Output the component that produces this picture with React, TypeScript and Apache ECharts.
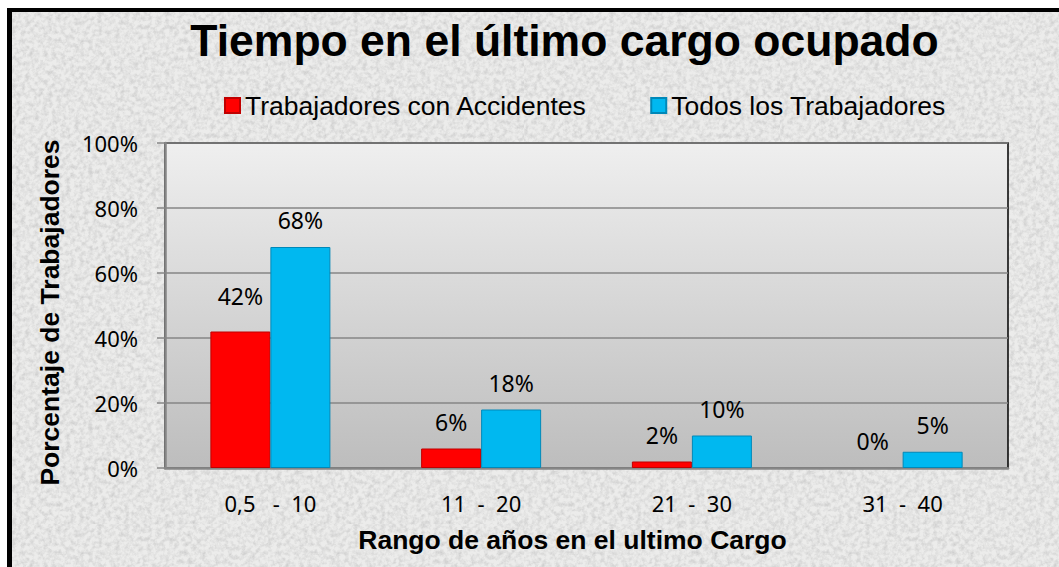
import React, { useEffect, useRef } from "react";
import * as echarts from "echarts";

const titleText = "Tiempo en el último cargo ocupado";
const xAxisTitle = "Rango de años en el ultimo Cargo";
const yAxisTitle = "Porcentaje de Trabajadores";
const categories = ["0,5   -  10", "11  -  20", "21  -  30", "31  -  40"];
const seriesNames = ["Trabajadores con Accidentes", "Todos los Trabajadores"];
const accidentes = [42, 6, 2, 0];
const todos = [68, 18, 10, 5];
const yMin = 0;
const yMax = 100;
const yStep = 20;

const ARIAL = '"Liberation Sans", Arial, sans-serif';
const CALIBRI = '"Noto Sans", sans-serif';

const noiseSvg =
  "<svg xmlns='http://www.w3.org/2000/svg' width='256' height='256'>" +
  "<filter id='n'><feTurbulence type='fractalNoise' baseFrequency='0.22' numOctaves='4' stitchTiles='stitch'/>" +
  "<feColorMatrix type='matrix' values='0 0 0 0 0.55  0 0 0 0 0.55  0 0 0 0 0.55  1.4 0 0 0 -0.52'/></filter>" +
  "<rect width='100%' height='100%' filter='url(#n)'/></svg>";
const noiseUrl = `url("data:image/svg+xml;utf8,${encodeURIComponent(noiseSvg)}")`;

export default function App() {
  const ref = useRef<HTMLDivElement>(null);

  useEffect(() => {
    if (!ref.current) return;
    const chart = echarts.init(ref.current, undefined, { renderer: "svg" });

    const barLabel = {
      show: true,
      position: "top",
      distance: 15.5,
      formatter: "{c}%",
      fontFamily: CALIBRI,
      fontSize: 23,
      color: "#000",
    };

    const textStyleBase = {
      fontFamily: ARIAL,
      fontWeight: "bold",
      fill: "#000",
      align: "center",
      verticalAlign: "middle",
      textAlign: "center",
      textVerticalAlign: "middle",
    };

    const barItem = (v: number, i: number, firstDistance?: number) => {
      const item: any = { value: v };
      if (v === 0) item.itemStyle = { borderWidth: 0 };
      if (i === 0 && firstDistance !== undefined) item.label = { distance: firstDistance };
      return item;
    };

    chart.setOption({
      animation: false,
      backgroundColor: "transparent",
      legend: {
        data: seriesNames,
        left: 224,
        top: 92,
        padding: 0,
        itemWidth: 15,
        itemHeight: 15,
        itemGap: 63,
        icon: "rect",
        textStyle: { fontFamily: ARIAL, fontSize: 26.5, color: "#000" },
      },
      grid: {
        left: 165,
        right: 51,
        top: 143,
        bottom: 99,
        show: true,
        backgroundColor: new echarts.graphic.LinearGradient(0, 0, 0, 1, [
          { offset: 0, color: "#efefef" },
          { offset: 1, color: "#bdbdbd" },
        ]),
        borderColor: "#000",
        borderWidth: 1.5,
      },
      xAxis: {
        type: "category",
        data: categories,
        axisLine: { lineStyle: { color: "#868686", width: 2.5 } },
        axisTick: { show: false },
        axisLabel: {
          fontFamily: CALIBRI,
          fontSize: 22,
          color: "#000",
          margin: 24,
        },
      },
      yAxis: {
        type: "value",
        min: yMin,
        max: yMax,
        interval: yStep,
        axisLine: { show: true, lineStyle: { color: "#868686", width: 2.5 } },
        axisTick: { show: true, length: 8, lineStyle: { color: "#868686", width: 1.5 } },
        axisLabel: {
          formatter: "{value}%",
          fontFamily: CALIBRI,
          fontSize: 22,
          color: "#000",
          margin: 27,
        },
        splitLine: { lineStyle: { color: "#868686", width: 1.5 } },
      },
      series: [
        {
          name: seriesNames[0],
          type: "bar",
          barWidth: 60,
          barGap: "0%",
          data: accidentes.map((v, i) => barItem(v, i, 24.5)),
          itemStyle: { color: "#ff0000", borderColor: "#c00000", borderWidth: 1 },
          label: barLabel,
        },
        {
          name: seriesNames[1],
          type: "bar",
          barWidth: 60,
          barGap: "0%",
          data: todos.map((v, i) => barItem(v, i)),
          itemStyle: { color: "#00b8f0", borderColor: "#0088b8", borderWidth: 1 },
          label: barLabel,
        },
      ],
      graphic: [
        {
          type: "text",
          x: 564.5,
          y: 40,
          z: 100,
          style: { ...textStyleBase, text: titleText, fontSize: 44.5 },
        },
        {
          type: "text",
          x: 572.5,
          y: 540,
          z: 100,
          style: { ...textStyleBase, text: xAxisTitle, fontSize: 26.5 },
        },
        {
          type: "text",
          x: 50,
          y: 312.5,
          rotation: Math.PI / 2,
          z: 100,
          style: { ...textStyleBase, text: yAxisTitle, fontSize: 26.5 },
        },
      ],
    });

    return () => chart.dispose();
  }, []);

  return (
    <div
      style={{
        position: "fixed",
        left: 0,
        top: 0,
        width: 1059,
        height: 567,
        overflow: "hidden",
        background: "#fff",
      }}
    >
      <div
        style={{
          position: "absolute",
          left: 7,
          top: 8,
          width: 1200,
          height: 700,
          boxSizing: "border-box",
          borderLeft: "5px solid #000",
          borderTop: "4.5px solid #000",
          backgroundColor: "#ececeb",
          backgroundImage: noiseUrl,
        }}
      />
      <div
        ref={ref}
        style={{ position: "absolute", left: 0, top: 0, width: 1059, height: 567 }}
      />
    </div>
  );
}
